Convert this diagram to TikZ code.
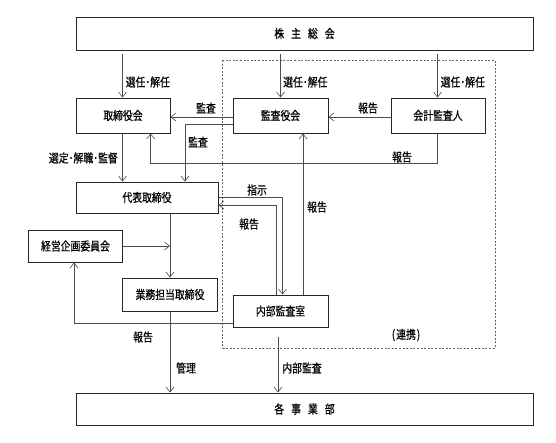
\documentclass[tikz,border=0pt]{standalone}
\usepackage{fontspec}
\newfontfamily\jp[FakeStretch=0.82,FakeBold=0.6]{Noto Sans CJK JP}
\usetikzlibrary{arrows.meta}
\tikzset{
  box/.style={draw=black!85, line width=1pt, fill=white, inner sep=0pt,
    font=\jp\fontsize{12}{12}\selectfont},
  lbl/.style={inner sep=0pt, font=\jp\fontsize{12}{12}\selectfont},
  arr/.style={draw=black!70, line width=0.6pt, -{Straight Barb[length=5pt,width=8pt]}},
  dashbox/.style={draw=black!60, line width=0.7pt, dash pattern=on 2pt off 1.6pt}
}
\begin{document}
\begin{tikzpicture}[x=1pt,y=-1pt]
\useasboundingbox (0,0) rectangle (556,442);
% dashed group
\draw[dashbox] (222.5,60) rectangle (495,348);
% boxes
\node[box, minimum width=457pt, minimum height=33pt] (kabu) at (304.5,33.5) {株\hspace{7pt}主\hspace{7pt}総\hspace{7pt}会};
\node[box, minimum width=94pt, minimum height=35pt] (tori) at (123,115.5) {取締役会};
\node[box, minimum width=95pt, minimum height=35pt] (kansa) at (280.5,115.5) {監査役会};
\node[box, minimum width=94pt, minimum height=35pt] (kaikei) at (438,115.5) {会計監査人};
\node[box, minimum width=142pt, minimum height=31pt] (daihyo) at (147,197.5) {代表取締役};
\node[box, minimum width=94pt, minimum height=32pt] (keiei) at (75.5,246) {経営企画委員会};
\node[box, minimum width=95pt, minimum height=33pt] (gyomu) at (170,294.5) {業務担当取締役};
\node[box, minimum width=95pt, minimum height=32pt] (naibu) at (280.5,311) {内部監査室};
\node[box, minimum width=457pt, minimum height=32pt] (kaku) at (304.5,409) {各\hspace{7pt}事\hspace{7pt}業\hspace{7pt}部};
% free starts
\coordinate (s1) at (122.5,54);
\coordinate (s2) at (280.5,54);
\coordinate (s3) at (437.5,54);
\coordinate (s4) at (278,337);
% connectors
\draw[arr] (s1) -- (tori.north -| s1);
\draw[arr] (s2) -- (kansa.north -| s2);
\draw[arr] (s3) -- (kaikei.north -| s3);
\draw[arr] (kansa.west |- 0,117) -- (tori.east |- 0,117);
\draw[arr] (kaikei.west |- 0,117) -- (kansa.east |- 0,117);
\draw[arr] (kansa.west |- 0,124) -| (daihyo.north -| 185,0);
\draw[arr] (kaikei.south -| s3) |- (150.7,163) -- (tori.south -| 150.7,0);
\draw[arr] (tori.south -| s1) -- (daihyo.north -| s1);
\draw[arr] (daihyo.east |- 0,197) -| (naibu.north -| 282.5,0);
\draw[arr] (naibu.north -| 276,0) |- (daihyo.east |- 0,205);
\draw[arr] (naibu.north -| 303,0) -- (kansa.south -| 303,0);
\draw[arr] (keiei.east) -- (keiei.east -| gyomu.north);
\draw[arr] (daihyo.south -| gyomu.north) -- (gyomu.north);
\draw[arr] (naibu.west |- 0,323) -| (keiei.south -| 74,0);
\draw[arr] (gyomu.south) -- (kaku.north -| gyomu.south);
\draw[arr] (s4) -- (kaku.north -| s4);
% labels
\node[lbl, anchor=west] (l1) at (125.5,82) {選任･解任};
\node[lbl, anchor=west] (l2) at (283,82) {選任･解任};
\node[lbl, anchor=west] (l3) at (440.5,82) {選任･解任};
\node[lbl] (l4) at (206,108) {監査};
\node[lbl] (l5) at (368,108) {報告};
\node[lbl] (l6) at (198,142) {監査};
\node[lbl] (l7) at (402,157) {報告};
\node[lbl, anchor=east] (l8) at (118,158) {選定･解職･監督};
\node[lbl] (l9) at (257,190) {指示};
\node[lbl] (l10) at (249,224) {報告};
\node[lbl] (l11) at (317,207) {報告};
\node[lbl] (l12) at (143,337) {報告};
\node[lbl] (l13) at (186,368) {管理};
\node[lbl] (l14) at (302,368) {内部監査};
\node[lbl] (l15) at (406,335) {(\hspace{1pt}連携\hspace{1pt})};
\end{tikzpicture}
\end{document}
